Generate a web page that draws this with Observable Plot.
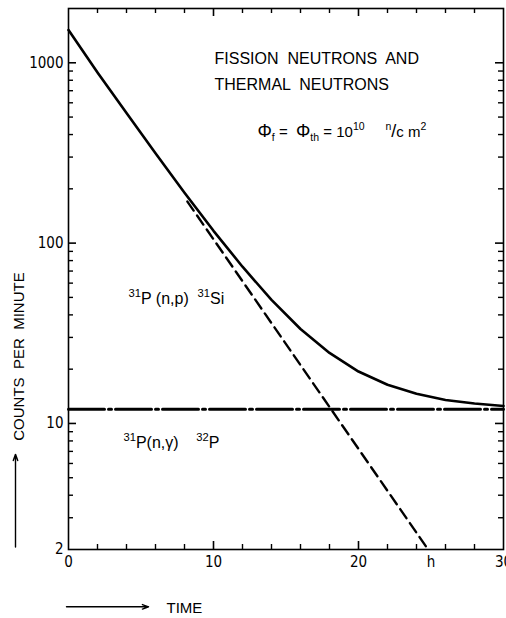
<!DOCTYPE html>
<html><head><meta charset="utf-8">
<script src="https://cdn.jsdelivr.net/npm/d3@7"></script>
<script src="https://cdn.jsdelivr.net/npm/@observablehq/plot@0.6"></script>
<style>
html,body{margin:0;padding:0;background:#fff;overflow:hidden;}
svg text{white-space:pre;}
</style></head><body><div id="chart"></div>
<script>
// ---- data ----
const time = [0, 2, 4, 6, 8, 10, 12, 14, 16, 18, 20, 22, 24, 26, 28, 30];
const totalCounts = [1520, 884, 526, 315, 190, 117, 74, 48.4, 33.4, 24.6, 19.4, 16.4, 14.6, 13.5, 12.9, 12.5];
const siTime = [8.2, 24.8];
const siCounts = [170, 2];
const pTime = [0, 30];
const pCounts = [12, 12];
const xTicks = [0, 10, 20, 25, 30];
const xTickLabels = ["0", "10", "20", "h", "30"];
const yTicks = [2, 10, 100, 1000];
const yTickLabels = ["2", "10", "100", "1000"];
const xMinor = [2, 4, 6, 8, 12, 14, 16, 18, 22, 24, 26, 28];
const xMajor = [10, 20];
const yMinor = [3, 4, 5, 6, 7, 8, 9, 20, 30, 40, 50, 60, 70, 80, 90, 200, 300, 400, 500, 600, 700, 800, 900];
const yMajor = [10, 100, 1000];

const total = time.map((t, i) => ({t, v: totalCounts[i]}));
const si = siTime.map((t, i) => ({t, v: siCounts[i]}));
const p = pTime.map((t, i) => ({t, v: pCounts[i]}));

const W = 506, H = 618, mL = 68, mT = 8, mR = 3, mB = 69;
const X0 = 0, X1 = 30, Y0 = 2, Y1 = 2000;
const pxPerX = (W - mL - mR) / (X1 - X0);
const pxPerDecade = (H - mT - mB) / Math.log10(Y1 / Y0);
const LABELFONT = "'DejaVu Sans Condensed', 'Liberation Sans Narrow', 'Liberation Sans', Arial, sans-serif";
const SANS = "'Liberation Sans', Arial, sans-serif";

// tick length (px) expressed in scale units, so the rules go through the scales
const yFactor = len => Math.pow(10, len / pxPerDecade);
const xUnits = len => len / pxPerX;

const tickMarks = [];
for (const [ticks, len, sw] of [[xMinor, 5, 1.4], [xMajor, 8, 1.6]]) {
  tickMarks.push(Plot.ruleX(ticks, {x: d => d, y1: Y0, y2: Y0 * yFactor(len), stroke: "#000", strokeWidth: sw}));
  tickMarks.push(Plot.ruleX(ticks, {x: d => d, y1: Y1, y2: Y1 / yFactor(len), stroke: "#000", strokeWidth: sw}));
}
for (const [ticks, len, sw] of [[yMinor, 5, 1.4], [yMajor, 8, 1.6]]) {
  tickMarks.push(Plot.ruleY(ticks, {y: d => d, x1: X0, x2: X0 + xUnits(len), stroke: "#000", strokeWidth: sw}));
  tickMarks.push(Plot.ruleY(ticks, {y: d => d, x1: X1, x2: X1 - xUnits(len), stroke: "#000", strokeWidth: sw}));
}

const chart = Plot.plot({
  width: W, height: H,
  marginLeft: mL, marginTop: mT, marginRight: mR, marginBottom: mB,
  style: {fontFamily: SANS, fontSize: "15px", color: "#000", background: "#fff"},
  x: {domain: [X0, X1], label: null},
  y: {type: "log", domain: [Y0, Y1], label: null},
  marks: [
    Plot.frame({stroke: "#000", fill: "none", strokeWidth: 1.6}),
    ...tickMarks,
    Plot.axisX({ticks: xTicks, tickSize: 0, tickPadding: 7, fontFamily: LABELFONT, fontSize: 15, label: null,
      tickFormat: d => xTickLabels[xTicks.indexOf(d)]}),
    Plot.axisY({ticks: yTicks, tickSize: 0, tickPadding: 5, fontFamily: LABELFONT, fontSize: 15, label: null,
      tickFormat: d => yTickLabels[yTicks.indexOf(d)]}),
    // curves
    Plot.line(p, {x: "t", y: "v", stroke: "#000", strokeWidth: 3, strokeDasharray: "36,4,3,4"}),
    Plot.line(si, {x: "t", y: "v", stroke: "#000", strokeWidth: 2.4, strokeDasharray: "11,6"}),
    Plot.line(total, {x: "t", y: "v", stroke: "#000", strokeWidth: 2.6}),
    // annotations
    Plot.text(["FISSION  NEUTRONS  AND"], {x: 10.07, y: 988, textAnchor: "start", lineAnchor: "bottom", fontSize: 16}),
    Plot.text(["THERMAL  NEUTRONS"], {x: 10.07, y: 710, textAnchor: "start", lineAnchor: "bottom", fontSize: 16}),
    Plot.text(["FORMULA"], {x: 13.03, y: 390, textAnchor: "start", lineAnchor: "bottom", fontSize: 15}),
    Plot.text(["SI31"], {x: 4.14, y: 46, textAnchor: "start", lineAnchor: "bottom", fontSize: 16}),
    Plot.text(["P32"], {x: 3.79, y: 7.28, textAnchor: "start", lineAnchor: "bottom", fontSize: 16}),
    Plot.text(["COUNTS  PER  MINUTE"], {x: -3.41, y: 23.5, rotate: -90, textAnchor: "middle", lineAnchor: "middle", fontSize: 15}),
    Plot.arrow([0], {x1: -3.655, x2: -3.655, y1: 2.066, y2: 6.74, stroke: "#000", strokeWidth: 1.4, headLength: 7, headAngle: 40}),
    Plot.arrow([0], {x1: -0.138, x2: 5.52, y1: 0.962, y2: 0.962, stroke: "#000", strokeWidth: 1.4, headLength: 7, headAngle: 40}),
    Plot.text(["TIME"], {x: 6.76, y: 0.95, textAnchor: "start", lineAnchor: "middle", fontSize: 15})
  ]
});
document.getElementById("chart").appendChild(chart);

// rich text (superscripts / subscripts / enlarged symbols)
const rich = {
  "FORMULA": [["Φ", "big"], ["f", "sub"], [" =  ", ""], ["Φ", "big"], ["th", "sub"], [" = 10", ""], ["10", "sup"], ["     ", ""], ["n", "sup"], ["/", "big"], ["c m", ""], ["2", "sup"]],
  "SI31": [["31", "sup"], ["P (n,p)  ", ""], ["31", "sup"], ["Si", ""]],
  "P32": [["31", "sup"], ["P(n,γ)    ", ""], ["32", "sup"], ["P", ""]]
};
d3.select(chart).selectAll("text").each(function () {
  const key = this.textContent;
  if (!rich[key]) return;
  const s = parseFloat(getComputedStyle(this).fontSize) || 15;
  const el = d3.select(this);
  el.text(null);
  let cur = 0;
  for (const [str, kind] of rich[key]) {
    const target = kind === "sup" ? -0.45 * s : kind === "sub" ? 0.32 * s : 0;
    const ts = el.append("tspan").text(str).attr("dy", target - cur);
    if (kind === "sup" || kind === "sub") ts.attr("font-size", (0.7 * s).toFixed(1));
    if (kind === "big") ts.attr("font-size", (1.2 * s).toFixed(1));
    cur = target;
  }
});
</script>
</body></html>
